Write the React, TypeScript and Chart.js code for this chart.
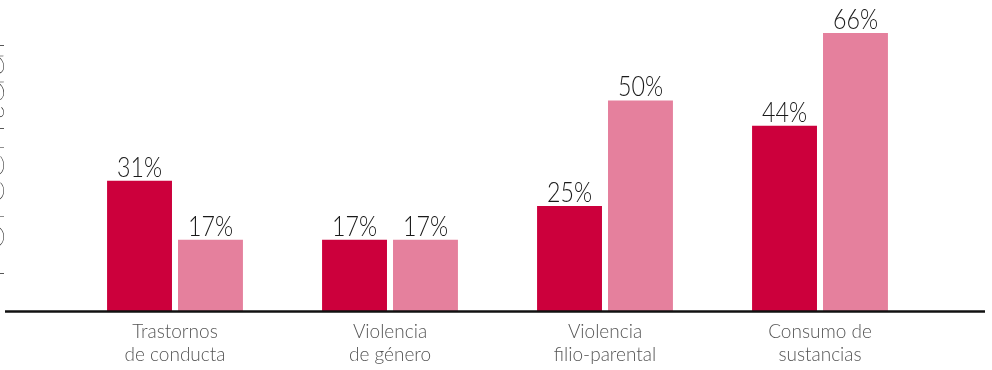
import React, { useEffect, useRef } from "react";
import { Chart, registerables } from "chart.js";

Chart.register(...registerables);

const categories: string[][] = [
  ["Trastornos", "de conducta"],
  ["Violencia", "de género"],
  ["Violencia", "filio-parental"],
  ["Consumo de", "sustancias"],
];
const seriesA: number[] = [31, 17, 25, 44];
const seriesB: number[] = [17, 17, 50, 66];
const sideTitle = "Porcentual";

const FONT = "Lato, 'Open Sans', sans-serif";

const valueLabels = {
  id: "valueLabels",
  afterDatasetsDraw(chart: any) {
    const ctx = chart.ctx;
    ctx.save();
    ctx.fillStyle = "#1a1a1a";
    ctx.textAlign = "center";
    ctx.textBaseline = "alphabetic";
    chart.data.datasets.forEach((ds: any, i: number) => {
      const meta = chart.getDatasetMeta(i);
      meta.data.forEach((bar: any, j: number) => {
        ctx.save();
        ctx.translate(bar.x, bar.y - 4);
        ctx.scale(0.86, 1);
        ctx.font = `300 27px ${FONT}`;
        ctx.fillText(`${ds.data[j]}%`, 0, 0);
        ctx.restore();
      });
    });
    // baseline axis line across the full width
    ctx.strokeStyle = "#111";
    ctx.lineWidth = 2.5;
    ctx.beginPath();
    ctx.moveTo(5, chart.chartArea.bottom);
    ctx.lineTo(985, chart.chartArea.bottom);
    ctx.stroke();
    // clipped side title
    ctx.save();
    ctx.translate(4, 280);
    ctx.rotate(-Math.PI / 2);
    ctx.font = `200 54px ${FONT}`;
    ctx.textAlign = "left";
    ctx.fillText(sideTitle, 0, 0, 270);
    ctx.restore();
    ctx.restore();
  },
};

export default function App() {
  const ref = useRef<HTMLCanvasElement | null>(null);
  useEffect(() => {
    if (!ref.current) return;
    const chart = new Chart(ref.current, {
      type: "bar",
      data: {
        labels: categories,
        datasets: [
          { data: seriesA, backgroundColor: "#CC003C" },
          { data: seriesB, backgroundColor: "#E5809D" },
        ],
      },
      options: {
        animation: false,
        responsive: true,
        maintainAspectRatio: false,
        layout: { padding: { left: 67.5, right: 64.5, top: 16, bottom: 0 } },
        plugins: { legend: { display: false }, tooltip: { enabled: false } },
        datasets: { bar: { categoryPercentage: 0.66, barPercentage: 0.915 } } as any,
        scales: {
          x: {
            grid: { display: false, drawTicks: false },
            border: { display: false },
            ticks: {
              color: "#555",
              padding: 9,
              font: { family: FONT, size: 19, weight: 300 as any, lineHeight: 1.22 },
            },
            afterFit: (scale: any) => {
              scale.height = 58.5;
            },
          },
          y: { display: false, min: 0, max: 70 },
        },
      },
      plugins: [valueLabels],
    });
    return () => chart.destroy();
  }, []);
  return (
    <div style={{ position: "fixed", left: 0, top: 0, width: 992, height: 370, background: "#fff" }}>
      <canvas ref={ref} />
    </div>
  );
}
